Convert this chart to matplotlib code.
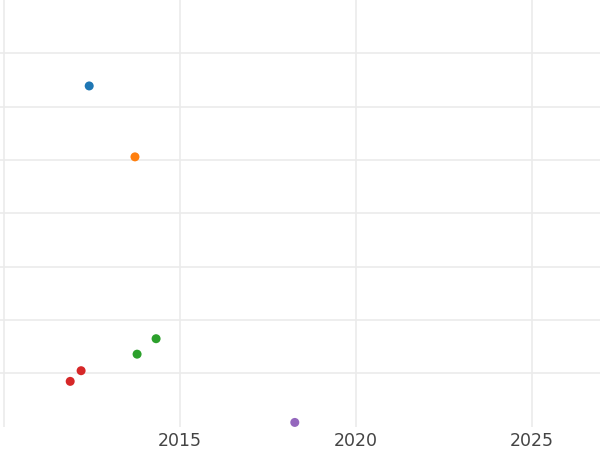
import matplotlib
matplotlib.use("Agg")
import matplotlib.pyplot as plt

# data
years = [2012.42, 2013.72, 2014.32, 2013.78, 2012.19, 2011.88, 2018.26]
values = [5.39, 4.06, 0.65, 0.36, 0.05, -0.15, -0.92]
colors = ["#1f77b4", "#ff7f0e", "#2ca02c", "#2ca02c", "#d62728", "#d62728", "#9467bd"]
xticks = [2010, 2015, 2020, 2025]
xticklabels = ["", "2015", "2020", "2025"]
yticks = [0, 1, 2, 3, 4, 5, 6]

fig = plt.figure(figsize=(6, 4.5), dpi=100)
ax = fig.add_axes([0, 0.0518, 1, 0.948])
ax.scatter(years, values, c=colors, s=42, zorder=3, linewidths=0)
ax.set_xlim(2009.886, 2026.93)
ax.set_ylim(-1, 7)
ax.set_xticks(xticks)
ax.set_xticklabels(xticklabels)
ax.set_yticks(yticks)
ax.set_yticklabels([])
ax.tick_params(axis="both", length=0)
ax.tick_params(axis="x", labelsize=12.5, labelcolor="#444444", pad=4)
ax.grid(True, color="#ebebeb", linewidth=1.2)
ax.set_axisbelow(True)
for s in ax.spines.values():
    s.set_visible(False)
fig.savefig("out.png", dpi=100)
